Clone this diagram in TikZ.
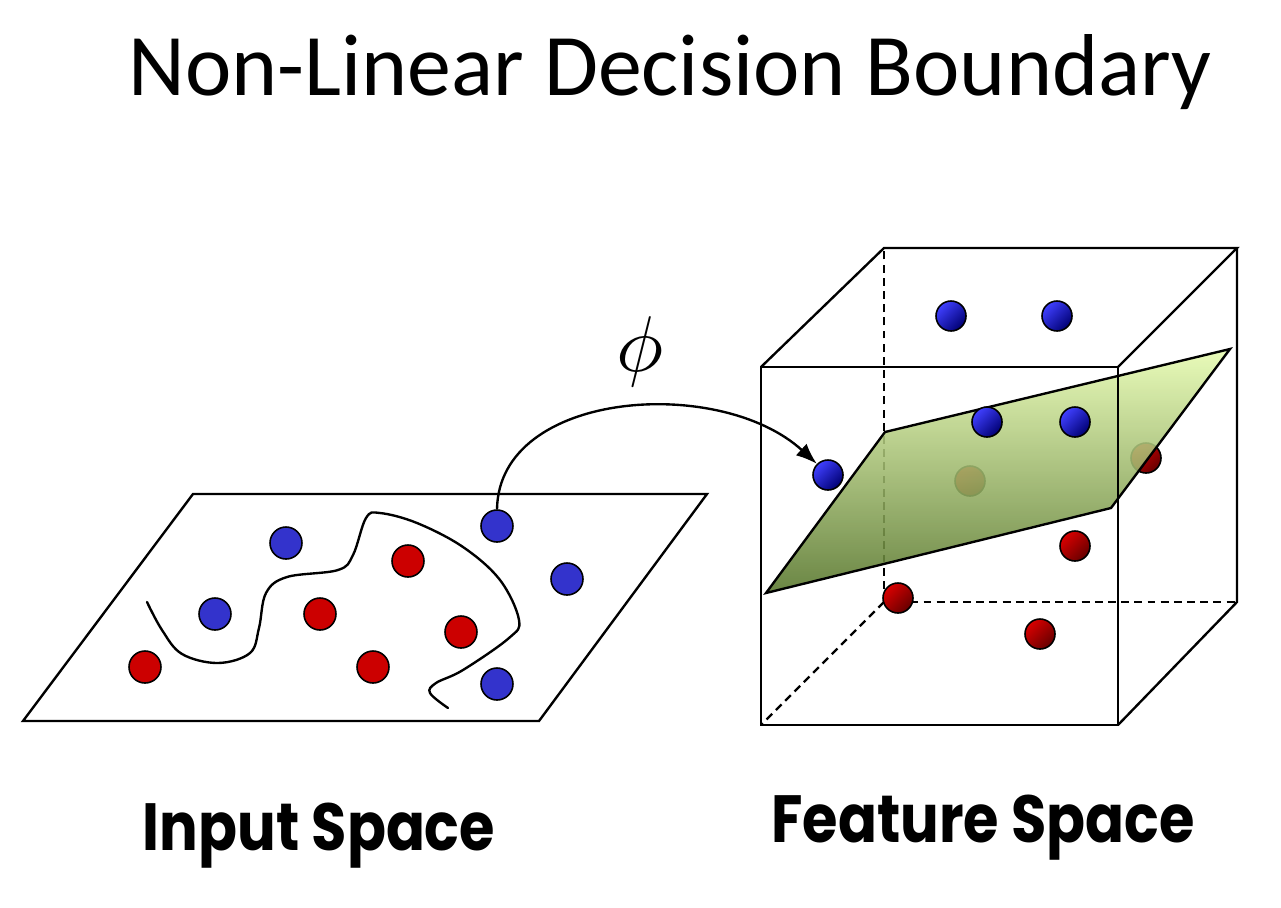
\documentclass[tikz,border=0pt]{standalone}
\usepackage{fontspec}
\usepackage{graphicx}
\setmainfont{Carlito}
\newfontfamily\spacefont[FakeStretch=0.86]{Poppins}
\usetikzlibrary{arrows.meta}

\definecolor{flatblue}{HTML}{3333CC}
\definecolor{flatred}{HTML}{CC0000}
\definecolor{planetop}{HTML}{E6FBB0}
\definecolor{planebottom}{HTML}{56752A}

\begin{document}
\begin{tikzpicture}[
        x=0.02cm, y=-0.02cm,
        line width=1.35pt,
        hidden/.style={dash pattern=on 4.5pt off 3pt},
        flat blue/.style={circle, draw=black, line width=0.9pt, fill=flatblue, minimum size=0.64cm, inner sep=0pt},
        flat red/.style={circle, draw=black, line width=0.9pt, fill=flatred, minimum size=0.64cm, inner sep=0pt},
        shiny blue/.style={circle, draw=black, line width=0.9pt, top color=blue!75!white, bottom color=blue!45!black, shading angle=45, minimum size=0.6cm, inner sep=0pt},
        shiny red/.style={circle, draw=black, line width=0.9pt, top color=red!85!black, bottom color=red!40!black, shading angle=45, minimum size=0.6cm, inner sep=0pt},
        space label/.style={font=\spacefont\bfseries\fontsize{38}{42}\selectfont, anchor=base},
    ]
    \useasboundingbox (0,0) rectangle (1281,907);

    % Title
    \node[font=\fontsize{50}{54}\selectfont, anchor=base] (title) at (670,95) {Non-Linear Decision Boundary};

    % Input space: flat sheet
    \draw (193,494) -- (707,494) -- (539,721) -- (23,721) -- cycle;

    % Non-linear boundary on the sheet
    \draw[line cap=round] plot[smooth, tension=0.6] coordinates {
        (147,602) (162,630) (182,654) (218,663) (250,653) (259,628)
        (266,593) (287,577) (338,570) (353,555) (366,518) (380,513)
        (417,523) (463,547) (500,580) (519,620) (509,638) (463,670)
        (436,683) (430,693) (448,708)
    };

    % Input space points
    \foreach \px/\py/\kind [count=\i] in {286/543/blue, 215/614/blue, 497/526/blue,
            567/579/blue, 497/684/blue, 145/667/red, 408/561/red, 320/614/red,
            461/632/red, 373/667/red} {
        \node[flat \kind] (in\i) at (\px,\py) {};
    }

    % Feature space: cube corners
    \coordinate (A) at (761,725);
    \coordinate (B) at (1118,725);
    \coordinate (C) at (1118,367);
    \coordinate (D) at (761,367);
    \coordinate (E) at (884,602);
    \coordinate (F) at (1239,602);
    \coordinate (G) at (1237,248);
    \coordinate (H) at (884,248);

    % Hidden edges
    \draw[hidden] (E) -- (A);
    \draw[hidden] (E) -- (F);
    \draw[hidden] (E) -- (H);

    % Points behind the separating plane
    \node[shiny red] (back1) at (970,481) {};
    \node[shiny red] (back2) at (1146,458) {};

    % Separating plane
    \draw[top color=planetop, bottom color=planebottom, fill opacity=0.88]
        (766,593) -- (885,432) -- (1230,349) -- (1111,508) -- cycle;

    % Visible edges
    \draw (A) -- (B) -- (C) -- (D) -- cycle;
    \draw (D) -- (H) -- (G) -- (C);
    \draw (G) -- (1237,602) -- (B);

    % Feature space points
    \foreach \px/\py/\kind [count=\i] in {951/316/blue, 1057/316/blue, 987/422/blue,
            1075/422/blue, 828/475/blue, 1075/546/red, 898/598/red, 1040/634/red} {
        \node[shiny \kind] (fs\i) at (\px,\py) {};
    }

    % The map phi
    \draw[-{Latex[length=12pt,width=9pt]}] (in3.north) .. controls (499,390) and (720,375) .. (fs5.north west);
    \node (phi) at (640,352) {\scalebox{4.5}{$\phi$}};

    % Labels
    \node[space label] (inputlabel) at (319,850) {Input Space};
    \node[space label] (featurelabel) at (983,842) {Feature Space};

\end{tikzpicture}
\end{document}
